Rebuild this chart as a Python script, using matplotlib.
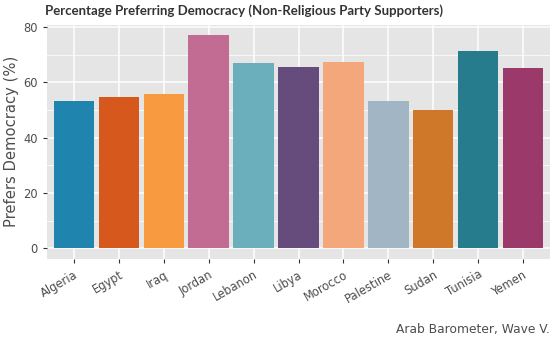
import matplotlib.pyplot as plt
from matplotlib.ticker import MultipleLocator

countries = ["Algeria", "Egypt", "Iraq", "Jordan", "Lebanon", "Libya",
             "Morocco", "Palestine", "Sudan", "Tunisia", "Yemen"]
pct_democracy = [53.2, 54.6, 55.7, 77.0, 67.0, 65.6, 67.4, 53.2, 49.9, 71.2, 65.2]
bar_colors = ["#1F85AE", "#D6581C", "#F89A40", "#C36C93", "#6BAFBC", "#654C7C",
              "#F3A77B", "#A2B5C4", "#CF7829", "#267C8C", "#9B3A6A"]

plt.rcParams['font.family'] = ['DejaVu Sans']

fig = plt.figure(figsize=(5.58, 3.44), dpi=100)
ax = fig.add_axes([47 / 558, 1 - 259 / 344, 503 / 558, (259 - 24.5) / 344])

ax.set_facecolor("#E5E5E5")
x = range(len(countries))
ax.bar(x, pct_democracy, width=0.9, color=bar_colors, zorder=3)

ax.set_xlim(-0.6, len(countries) - 0.4)
top = max(pct_democracy)
ax.set_ylim(-0.05 * top, top * 1.05)
ax.yaxis.set_major_locator(MultipleLocator(20))
ax.yaxis.set_minor_locator(MultipleLocator(10))
ax.grid(which="major", color="white", linewidth=1.1, zorder=0)
ax.grid(which="minor", axis="y", color="white", linewidth=0.55, zorder=0)
ax.set_axisbelow(True)
for s in ax.spines.values():
    s.set_visible(False)

ax.set_xticks(list(x))
ax.set_xticklabels(countries, rotation=30, ha="right", rotation_mode="anchor")
ax.tick_params(axis="both", which="major", length=3, color="#333333",
               labelcolor="#4D4D4D", labelsize=8.3)
ax.tick_params(axis="y", which="minor", length=0)
ax.set_ylabel("Prefers Democracy (%)", fontsize=10.6, color="#4D4D4D", labelpad=3)

fig.text(45 / 558, 1 - 11 / 344, "Percentage Preferring Democracy (Non-Religious Party Supporters)",
         fontsize=9.5, fontweight="bold", color="#333333", va="center", ha="left",
         family="Lato")
fig.text(550 / 558, 1 - 329 / 344, "Arab Barometer, Wave V.",
         fontsize=8.8, color="#4D4D4D", ha="right", va="center")

fig.savefig("out.png", dpi=100)
